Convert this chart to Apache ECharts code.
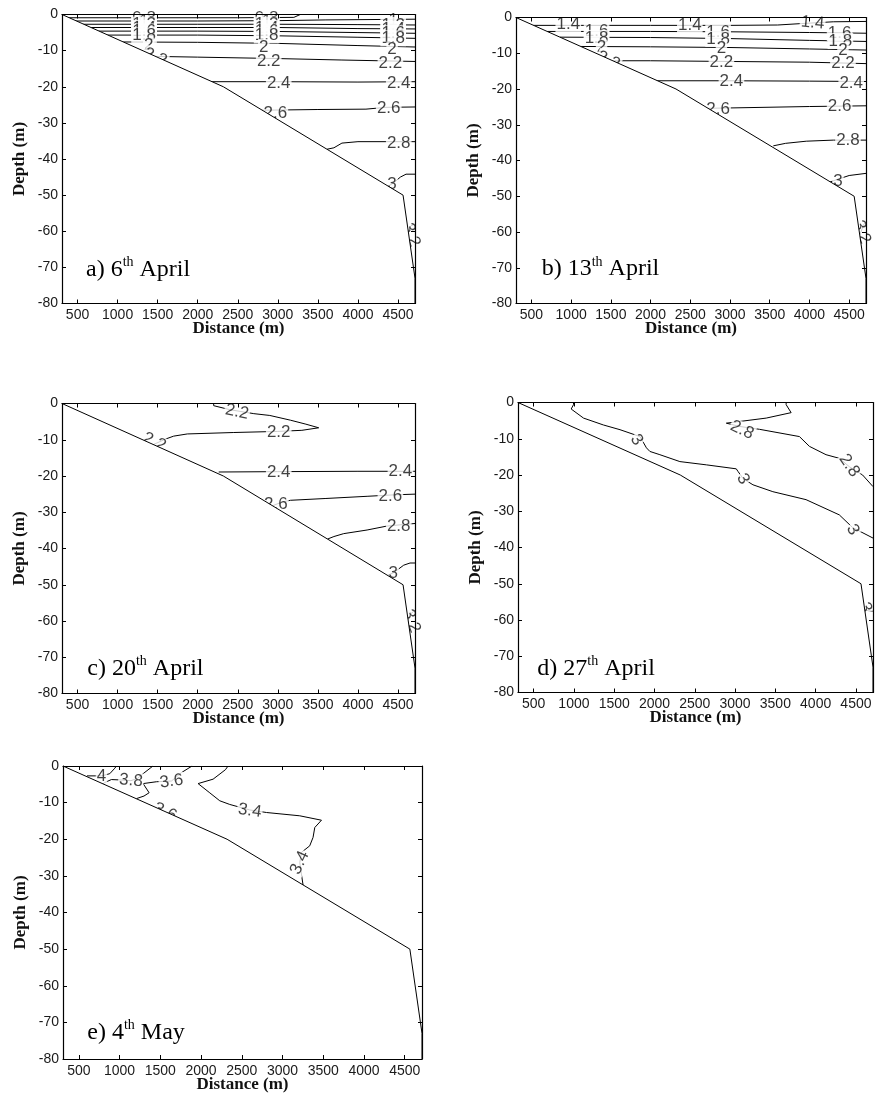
<!DOCTYPE html>
<html><head><meta charset="utf-8">
<script src="https://cdn.jsdelivr.net/npm/echarts@6/dist/echarts.min.js"></script>
<style>html,body{margin:0;padding:0;background:#fff}#c{width:876px;height:1104px}</style>
</head><body><div id="c"></div>
<script>
// ---------------- data ----------------
const X_RANGE = [306, 4712];
const Y_RANGE = [-80, 0];
const X_TICKS = [500, 1000, 1500, 2000, 2500, 3000, 3500, 4000, 4500];
const BATHY_X = [306, 2320, 4563, 4712, 4712];
const BATHY_Y = [0, -20, -50, -73, -80];
const PANEL_LETTERS = ['a)', 'b)', 'c)', 'd)', 'e)'];
const PANEL_DAYS = ['6', '13', '20', '27', '4'];
const PANEL_MONTHS = ['April', 'April', 'April', 'April', 'May'];

// a) 6th April : contour polylines [distance, depth]
const A_LINES = [
  [[390,-0.9],[1500,-0.9],[2500,-0.9],[3200,-0.8],[3280,0]],
  [[480,-1.8],[2000,-1.8],[3000,-1.7],[3600,-1.5],[4712,-1.3]],
  [[570,-2.7],[2000,-2.7],[3000,-2.7],[4000,-2.8],[4712,-2.9]],
  [[660,-3.6],[2000,-3.6],[3000,-3.6],[4000,-3.9],[4712,-4.0]],
  [[760,-4.6],[2000,-4.6],[3000,-4.7],[4000,-5.0],[4712,-5.2]],
  [[870,-5.7],[2000,-5.7],[3000,-5.9],[4000,-6.3],[4712,-6.6]],
  [[1070,-7.6],[2000,-7.7],[3000,-8.0],[4000,-8.6],[4712,-9.0]],
  [[1470,-11.6],[2000,-11.8],[3000,-12.2],[3800,-12.6],[4712,-13.0]],
  [[2170,-18.6],[3000,-18.6],[4000,-18.7],[4712,-18.6]],
  [[2806,-26.5],[3500,-26.3],[4100,-26.2],[4350,-25.7],[4712,-25.6]],
  [[3613,-37.3],[3700,-36.9],[3800,-35.6],[4000,-35.2],[4712,-35.2]],
  [[4380,-47.5],[4450,-46.5],[4530,-45],[4600,-44.2],[4712,-44.2]],
  [[4628,-60],[4660,-58.5],[4712,-58]]
];
// labels [distance, depth, text, angle]
const A_LABELS = [
  [1330,-1.0,'0.8',0],[1330,-1.9,'1',0],[1330,-2.8,'1.2',0],[1330,-3.7,'1.4',0],[1330,-4.7,'1.6',0],[1330,-5.8,'1.8',0],
  [1388,-8.6,'2',0],[1470,-11.8,'2.2',-25],
  [2860,-1.0,'0.8',0],[2860,-1.9,'1',0],[2860,-2.8,'1.2',0],[2860,-3.7,'1.4',0],[2860,-4.7,'1.6',0],[2860,-5.8,'1.8',0],
  [2824,-9.0,'2',0],[2886,-13.0,'2.2',0],
  [4440,-1.5,'1',0],[4440,-2.9,'1.2',0],[4440,-4.0,'1.4',0],[4440,-5.2,'1.6',0],[4440,-6.6,'1.8',0],
  [4426,-9.7,'2',0],[4405,-13.4,'2.2',0],
  [3011,-19.0,'2.4',0],[4509,-19.0,'2.4',0],
  [2969,-27.4,'2.6',0],[4384,-26.1,'2.6',0],
  [4509,-35.6,'2.8',0],[4426,-47.0,'3',0],[4665,-61,'3.2',-70]
];

// b) 13th April
const B_LINES = [
  [[525,-2.2],[2000,-2.2],[3000,-2.2],[3600,-2.1],[3900,-1.7],[4300,-1.2],[4712,-1.1]],
  [[700,-3.9],[2000,-3.9],[3000,-4.0],[4000,-4.2],[4712,-4.4]],
  [[860,-5.5],[2000,-5.6],[3000,-5.9],[4000,-6.4],[4712,-6.7]],
  [[1120,-8.1],[2000,-8.2],[3000,-8.4],[4000,-8.8],[4712,-9.1]],
  [[1530,-12.1],[2000,-12.1],[3000,-12.3],[4000,-12.5],[4712,-12.9]],
  [[2070,-17.7],[3000,-17.7],[4000,-17.8],[4712,-17.9]],
  [[2710,-25.4],[3000,-25.3],[4000,-24.9],[4712,-24.7]],
  [[3545,-35.9],[3700,-35.2],[3960,-34.6],[4300,-34.3],[4712,-34.3]],
  [[4235,-46.2],[4350,-45.3],[4500,-44.2],[4712,-43.6]],
  [[4632,-61],[4680,-58],[4712,-57]]
];
const B_LABELS = [
  [964,-2.0,'1.4',0],[2494,-2.3,'1.4',0],[4040,-1.5,'1.4',-5],
  [1320,-4.0,'1.6',0],[2850,-4.1,'1.6',0],[4380,-4.4,'1.6',0],
  [1320,-5.7,'1.8',0],[2850,-6.0,'1.8',0],[4390,-6.6,'1.8',0],
  [1383,-8.4,'2',0],[2892,-8.6,'2',0],[4422,-9.1,'2',0],
  [1470,-12.0,'2.2',-25],[2892,-12.4,'2.2',0],[4422,-12.9,'2.2',0],
  [3018,-17.8,'2.4',0],[4526,-18.3,'2.4',0],
  [2850,-25.6,'2.6',0],[4380,-24.8,'2.6',0],
  [4485,-34.4,'2.8',0],[4359,-45.7,'3',0],[4660,-60,'3.2',-70]
];

// c) 20th April
const C_LINES = [
  [[2199,0],[2199,-0.6],[2400,-1.7],[2700,-2.8],[2900,-3.3],[3157,-4.6],[3350,-5.7],[3510,-6.7],[3300,-7.4],[3000,-7.7],[2450,-8.0],[1870,-8.4],[1700,-9.0],[1600,-9.8],[1480,-11.0],[1420,-11.6]],
  [[2262,-18.9],[3000,-18.8],[4000,-18.7],[4712,-18.7]],
  [[2935,-28.2],[3050,-27.2],[3157,-26.7],[3600,-26.2],[4114,-25.6],[4450,-25.2],[4712,-25.0]],
  [[3620,-37.4],[3700,-36.7],[3822,-35.9],[4114,-34.9],[4364,-33.8],[4712,-33.1]],
  [[4370,-47.4],[4450,-46.6],[4571,-44.6],[4650,-44.0],[4712,-44.0]],
  [[4625,-60],[4660,-58],[4712,-57]]
];
const C_LABELS = [
  [2490,-2.3,'2.2',-12],[3011,-8.0,'2.2',0],[1460,-10.6,'2.2',-25],
  [3011,-19.0,'2.4',0],[4530,-18.8,'2.4',0],
  [2975,-27.9,'2.6',0],[4405,-25.6,'2.6',0],
  [4509,-33.9,'2.8',0],[4440,-46.9,'3',0],[4668,-60,'3.2',-70]
];

// d) 27th April
const D_LINES = [
  [[995,0],[995,-0.6],[966,-1.8],[1119,-4.3],[1366,-6.2],[1572,-7.5],[1820,-9.4],[1900,-12.5],[1943,-13.5],[2067,-14.4],[2315,-16.3],[2644,-17.2],[3015,-18.3],[3036,-19],[3100,-21],[3222,-22.7],[3469,-24.6],[3881,-26.8],[4294,-31],[4459,-34.5],[4712,-37.4]],
  [[3634,0],[3634,-0.6],[3696,-2.8],[3387,-4.3],[2892,-5.7],[3057,-6.6],[3304,-7.4],[3799,-9.4],[3923,-12.1],[4129,-14.4],[4294,-15.4],[4418,-17.7],[4583,-20],[4712,-23.2]],
  [[4610,-57],[4660,-57.5],[4712,-57.5]]
];
const D_LABELS = [
  [1778,-10.3,'3',-55],[3098,-21.1,'3',-60],[4459,-35.1,'3',-60],
  [3086,-7.6,'2.8',-25],[4418,-17.4,'2.8',-55],[4615,-56.5,'3',-70]
];

// e) 4th May
const E_LINES = [
  [[600,-2.7],[778,-2.7],[880,-2.1],[942,-0.6],[962,0]],
  [[1410,0],[1392,-0.5],[1289,-2.1],[1220,-3.4],[1140,-4.0],[1000,-3.8],[900,-3.7],[820,-4.5],[790,-5.0]],
  [[1890,0],[1882,-0.3],[1760,-1.8],[1637,-4.1],[1453,-4.3],[1289,-4.8],[1363,-7.3],[1300,-8.2],[1208,-8.9]],
  [[2332,0],[2300,-1.0],[2148,-3.6],[1964,-4.8],[2100,-7.2],[2230,-9.5],[2353,-10.5],[2598,-12.0],[2803,-12.7],[3212,-13.6],[3478,-14.8],[3396,-16.8],[3375,-19.5],[3334,-21.8],[3232,-23.6],[3212,-26.4],[3232,-29.5],[3253,-32.6]]
];
const E_LABELS = [
  [778,-2.7,'4',0],[1140,-4.0,'3.8',-5],[1637,-4.2,'3.6',8],
  [2598,-12.2,'3.4',-8],[3212,-26.4,'3.4',65],[1560,-12.6,'3.6',-25]
];

// ---------------- layout ----------------
const GRID_RECTS = [[62,14.5,353,289],[516,17.5,350,286],[62,403.5,353,290],[518,402.5,355,290],[63,766,359,293]];
const TITLE_POS = [[86,277],[541.7,276.7],[87.3,676],[537.3,676],[87.3,1040]];
const PANEL_LINES = [A_LINES, B_LINES, C_LINES, D_LINES, E_LINES];
const PANEL_LABELS = [A_LABELS, B_LABELS, C_LABELS, D_LABELS, E_LABELS];

const SANS = 'Liberation Sans';
const SERIF = 'Liberation Serif';
const BLACK = '#000';

const grids = [], xAxes = [], yAxes = [], series = [], titles = [];
GRID_RECTS.forEach((r, i) => {
  grids.push({left: r[0], top: r[1], width: r[2], height: r[3], containLabel: false, outerBoundsMode: 'none'});
  const tick = {show: true, inside: true, length: 4, lineStyle: {color: BLACK, width: 1}};
  const line = {show: true, onZero: false, lineStyle: {color: BLACK, width: 1.2}};
  xAxes.push({
    gridIndex: i, type: 'value', position: 'bottom', min: X_RANGE[0], max: X_RANGE[1], z: 10,
    axisLine: line, axisTick: Object.assign({customValues: X_TICKS}, tick),
    axisLabel: {customValues: X_TICKS, formatter: v => String(v), fontFamily: SANS, fontSize: 14, color: '#1a1a1a', margin: 5},
    splitLine: {show: false},
    name: 'Distance (m)', nameLocation: 'middle', nameGap: 17, nameMoveOverlap: false,
    nameTextStyle: {fontFamily: SERIF, fontWeight: 'bold', fontSize: 17, color: '#111'}
  });
  xAxes.push({
    gridIndex: i, type: 'value', position: 'top', min: X_RANGE[0], max: X_RANGE[1], z: 10,
    axisLine: line, axisTick: Object.assign({customValues: X_TICKS}, tick),
    axisLabel: {show: false}, splitLine: {show: false}
  });
  yAxes.push({
    gridIndex: i, type: 'value', position: 'left', min: Y_RANGE[0], max: Y_RANGE[1], interval: 10, z: 10,
    axisLine: line, axisTick: tick,
    axisLabel: {fontFamily: SANS, fontSize: 14, color: '#1a1a1a', margin: 4},
    splitLine: {show: false},
    name: 'Depth (m)', nameLocation: 'middle', nameGap: 34, nameMoveOverlap: false,
    nameTextStyle: {fontFamily: SERIF, fontWeight: 'bold', fontSize: 17, color: '#111'}
  });
  yAxes.push({
    gridIndex: i, type: 'value', position: 'right', min: Y_RANGE[0], max: Y_RANGE[1], interval: 10, z: 10,
    axisLine: line, axisTick: tick, axisLabel: {show: false}, splitLine: {show: false}
  });
  const xi = 2 * i, yi = 2 * i;
  PANEL_LINES[i].forEach(pts => {
    series.push({
      type: 'line', xAxisIndex: xi, yAxisIndex: yi, data: pts, symbol: 'none', silent: true,
      lineStyle: {color: BLACK, width: 1}, z: 2, animation: false
    });
  });
  series.push({
    type: 'scatter', xAxisIndex: xi, yAxisIndex: yi, symbolSize: 1, silent: true, z: 3, animation: false,
    itemStyle: {color: 'rgba(0,0,0,0)'},
    data: PANEL_LABELS[i].map(l => ({value: [l[0], l[1]], name: l[2], label: {rotate: l[3]}})),
    label: {show: true, position: 'inside', formatter: p => p.name, fontFamily: SANS, fontSize: 17,
      color: '#111', backgroundColor: '#fff', padding: [0, 1], lineHeight: 16}
  });
  series.push({
    type: 'line', xAxisIndex: xi, yAxisIndex: yi, symbol: 'none', silent: true, z: 5, animation: false,
    data: BATHY_X.map((x, k) => [x, BATHY_Y[k]]),
    lineStyle: {color: BLACK, width: 1},
    areaStyle: {color: '#fff', opacity: 1, origin: 'start'}
  });
  const tp = TITLE_POS[i];
  titles.push({
    left: tp[0], top: tp[1] - 21.5, padding: 0, z: 20,
    text: '{m|' + PANEL_LETTERS[i] + ' ' + PANEL_DAYS[i] + '}{s|th}{m| ' + PANEL_MONTHS[i] + '}',
    textStyle: {
      fontWeight: 'normal',
      rich: {
        m: {fontFamily: SERIF, fontWeight: 'normal', fontSize: 24, lineHeight: 28, color: BLACK},
        s: {fontFamily: SERIF, fontWeight: 'normal', fontSize: 14, lineHeight: 20, verticalAlign: 'top', color: BLACK}
      }
    }
  });
});

const chart = echarts.init(document.getElementById('c'), null, {renderer: 'canvas'});
chart.setOption({
  backgroundColor: '#fff',
  animation: false,
  title: titles,
  grid: grids,
  xAxis: xAxes,
  yAxis: yAxes,
  series: series
});
</script>
</body></html>
